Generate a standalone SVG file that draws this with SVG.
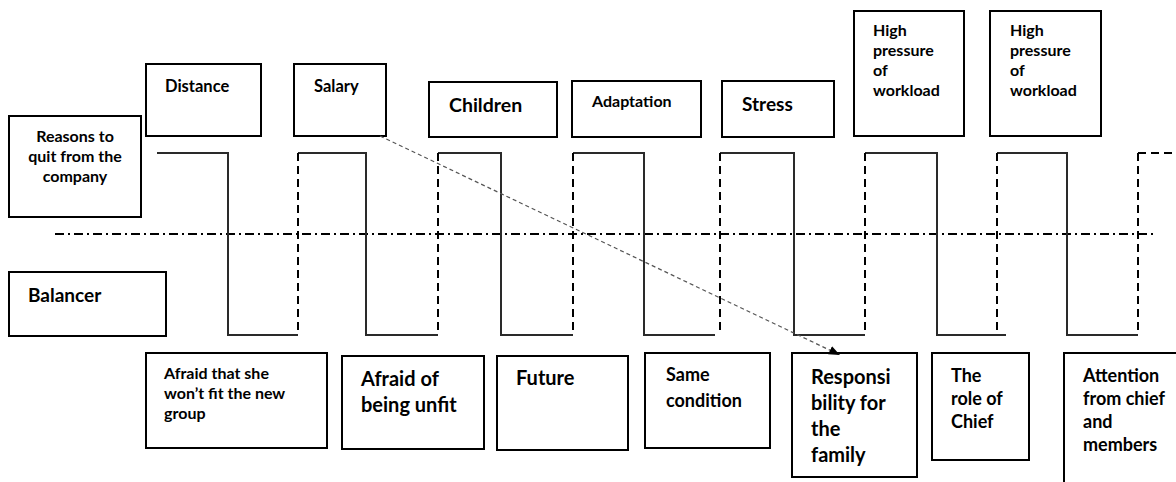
<svg xmlns="http://www.w3.org/2000/svg" width="1176" height="482" viewBox="0 0 1176 482">
<defs>
<style>
.box{fill:#fff;stroke:#000;stroke-width:2}
.t{font-family:Lato,"Liberation Sans",sans-serif;font-weight:700;fill:#000}
.solid{fill:none;stroke:#2a2a2a;stroke-width:2}
.dash{fill:none;stroke:#000;stroke-width:2;stroke-dasharray:8 5}
.dashdot{fill:none;stroke:#000;stroke-width:2;stroke-dasharray:9 4 2 4}
.arrow{fill:none;stroke:#555;stroke-width:1.2;stroke-dasharray:4 3}
</style>
<marker id="ah" markerUnits="userSpaceOnUse" markerWidth="12" markerHeight="10" refX="11" refY="4.5" orient="auto">
<path d="M0,0 L11,4.5 L0,9 z" fill="#000"/>
</marker>
</defs>
<rect width="1176" height="482" fill="#fff"/>

<g id="wave">
<path class="dashdot" d="M55,234 H1156"/>
<path class="solid" d="M157,153 H228 V335 H298"/>
<path class="solid" d="M298,153 H366 V335 H438"/>
<path class="solid" d="M438,153 H501 V335 H573"/>
<path class="solid" d="M573,153 H644 V335 H715"/>
<path class="solid" d="M720,153 H794 V335 H865"/>
<path class="solid" d="M865,153 H937 V335 H1006"/>
<path class="solid" d="M997,153 H1067 V335 H1138"/>
<path class="dash" d="M298,153 V335 M438,153 V335 M573,153 V335 M720,153 V335 M865,153 V335 M997,153 V335 M1138,153 V335"/>
<path class="dash" d="M1138,153 H1176"/>
</g>

<g id="reasons">
<rect class="box" x="9" y="116" width="132" height="101"/>
<text class="t" font-size="16" text-anchor="middle"><tspan x="75" y="142">Reasons to</tspan><tspan x="75" y="162">quit from the</tspan><tspan x="75" y="182">company</tspan></text>
</g>
<g id="distance">
<rect class="box" x="146" y="64" width="115" height="72"/>
<text class="t" font-size="16.5" x="165" y="92">Distance</text>
</g>
<g id="salary">
<rect class="box" x="294" y="64" width="92" height="72"/>
<text class="t" font-size="16.5" x="314" y="92">Salary</text>
</g>
<g id="children">
<rect class="box" x="429" y="82" width="128" height="55"/>
<text class="t" font-size="19.5" x="449" y="112">Children</text>
</g>
<g id="adaptation">
<rect class="box" x="572" y="81" width="129" height="56"/>
<text class="t" font-size="16" x="592" y="107">Adaptation</text>
</g>
<g id="stress">
<rect class="box" x="722" y="81" width="112" height="56"/>
<text class="t" font-size="19" x="742" y="111">Stress</text>
</g>
<g id="pressure1">
<rect class="box" x="854" y="11" width="110" height="125"/>
<text class="t" font-size="16"><tspan x="873" y="36">High</tspan><tspan x="873" y="56">pressure</tspan><tspan x="873" y="76">of</tspan><tspan x="873" y="96">workload</tspan></text>
</g>
<g id="pressure2">
<rect class="box" x="990" y="11" width="111" height="125"/>
<text class="t" font-size="16"><tspan x="1010" y="36">High</tspan><tspan x="1010" y="56">pressure</tspan><tspan x="1010" y="76">of</tspan><tspan x="1010" y="96">workload</tspan></text>
</g>

<g id="balancer">
<rect class="box" x="9" y="272" width="157" height="64"/>
<text class="t" font-size="19" x="28" y="302">Balancer</text>
</g>
<g id="afraid-fit">
<rect class="box" x="146" y="353" width="181" height="95"/>
<text class="t" font-size="16"><tspan x="164" y="379">Afraid that she</tspan><tspan x="164" y="399">won’t fit the new</tspan><tspan x="164" y="419">group</tspan></text>
</g>
<g id="afraid-unfit">
<rect class="box" x="342" y="356" width="142" height="93"/>
<text class="t" font-size="20"><tspan x="361" y="386">Afraid of</tspan><tspan x="361" y="412">being unfit</tspan></text>
</g>
<g id="future">
<rect class="box" x="497" y="356" width="131" height="94"/>
<text class="t" font-size="20" x="516" y="385">Future</text>
</g>
<g id="same">
<rect class="box" x="645" y="353" width="125" height="95"/>
<text class="t" font-size="18"><tspan x="666" y="381">Same</tspan><tspan x="666" y="407">condition</tspan></text>
</g>
<g id="responsibility">
<rect class="box" x="792" y="353" width="125" height="124"/>
<text class="t" font-size="20"><tspan x="811" y="384">Responsi</tspan><tspan x="811" y="410">bility for</tspan><tspan x="811" y="436">the</tspan><tspan x="811" y="462">family</tspan></text>
</g>
<g id="chief">
<rect class="box" x="932" y="353" width="97" height="107"/>
<text class="t" font-size="18"><tspan x="951" y="382">The</tspan><tspan x="951" y="405">role of</tspan><tspan x="951" y="428">Chief</tspan></text>
</g>
<g id="attention">
<rect class="box" x="1064" y="353" width="130" height="140"/>
<text class="t" font-size="18"><tspan x="1083" y="382">Attention</tspan><tspan x="1083" y="405">from chief</tspan><tspan x="1083" y="428">and</tspan><tspan x="1083" y="451">members</tspan></text>
</g>

<g id="connectors">
<line class="arrow" x1="380" y1="136" x2="840" y2="355" marker-end="url(#ah)"/>
</g>
</svg>
